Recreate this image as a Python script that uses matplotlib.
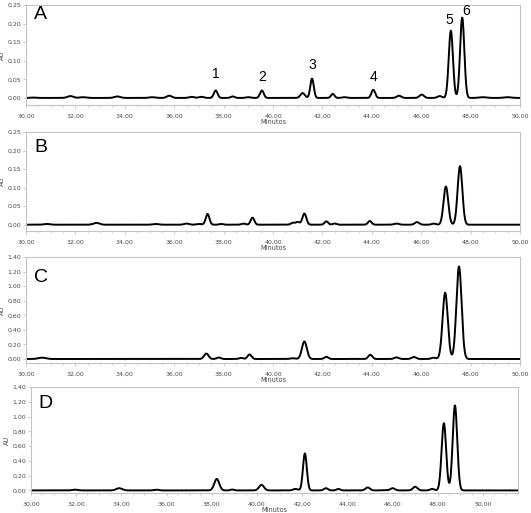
import numpy as np
import matplotlib
matplotlib.use("Agg")
import matplotlib.pyplot as plt
from matplotlib.ticker import MultipleLocator, FuncFormatter

# ---- peak tables (retention time, height AU, width sigma) ----
A_rt = [30.3, 31.8, 32.3, 33.7, 35.1, 35.8, 36.7, 37.1, 37.68, 38.37, 39.0, 39.55,
        41.2, 41.58, 42.42, 42.9, 44.06, 45.1, 46.02, 46.75, 47.2, 47.66, 48.5, 49.5]
A_h = [0.001, 0.005, 0.002, 0.004, 0.002, 0.006, 0.003, 0.003, 0.020, 0.004, 0.002, 0.020,
       0.013, 0.052, 0.011, 0.002, 0.022, 0.006, 0.009, 0.005, 0.181, 0.216, 0.002, 0.002]
A_w = [0.12, 0.12, 0.12, 0.12, 0.12, 0.1, 0.1, 0.1, 0.075, 0.08, 0.1, 0.075,
       0.09, 0.07, 0.07, 0.1, 0.075, 0.09, 0.09, 0.09, 0.085, 0.085, 0.15, 0.15]

B_rt = [30.85, 32.85, 35.25, 36.5, 37.0, 37.35, 37.9, 38.8, 39.17, 40.8, 41.0, 41.27,
        42.16, 42.5, 43.92, 45.0, 45.83, 46.5, 47.0, 47.57]
B_h = [0.002, 0.005, 0.002, 0.003, 0.002, 0.029, 0.002, 0.003, 0.019, 0.005, 0.007, 0.030,
       0.009, 0.003, 0.010, 0.003, 0.007, 0.003, 0.103, 0.158]
B_w = [0.12, 0.12, 0.12, 0.1, 0.1, 0.075, 0.08, 0.08, 0.075, 0.08, 0.08, 0.08,
       0.075, 0.08, 0.075, 0.1, 0.09, 0.08, 0.095, 0.095]

C_rt = [30.65, 37.3, 37.8, 38.7, 39.05, 40.8, 41.27, 42.16, 43.94, 45.0, 45.7, 46.5, 46.97, 47.53]
C_h = [0.018, 0.075, 0.02, 0.015, 0.062, 0.01, 0.24, 0.03, 0.058, 0.022, 0.028, 0.018, 0.91, 1.27]
C_w = [0.15, 0.09, 0.08, 0.08, 0.08, 0.1, 0.1, 0.08, 0.08, 0.09, 0.09, 0.09, 0.105, 0.105]

D_rt = [31.95, 33.9, 35.55, 38.22, 38.9, 40.2, 41.7, 42.12, 43.05, 43.6, 44.9, 45.6,
        46.0, 47.0, 47.75, 48.27, 48.76]
D_h = [0.01, 0.03, 0.01, 0.155, 0.012, 0.075, 0.02, 0.50, 0.03, 0.02, 0.04, 0.005,
       0.03, 0.05, 0.02, 0.91, 1.15]
D_w = [0.12, 0.13, 0.1, 0.11, 0.08, 0.11, 0.1, 0.085, 0.09, 0.08, 0.1, 0.1,
       0.1, 0.1, 0.09, 0.1, 0.1]

panel_letters = ["A", "B", "C", "D"]
peak_labels = ["1", "2", "3", "4", "5", "6"]
peak_label_x = [37.68, 39.55, 41.58, 44.06, 47.12, 47.82]
peak_label_y = [0.065, 0.057, 0.089, 0.057, 0.210, 0.235]

xlims = [(30, 50), (30, 50), (30, 50), (30, 51.55)]
ylims = [(-0.019, 0.25), (-0.017, 0.25), (-0.055, 1.40), (-0.035, 1.40)]
ysteps = [0.05, 0.05, 0.20, 0.20]
y_label = "AU"
x_label = "Minutos"

# layout in pixels of a 531x513 image
W, H = 531, 513
rects_px = [(26, 5, 520, 105), (26, 132, 520, 231), (26, 257, 520, 363), (31, 387, 518, 493)]
letter_px = [(34, 15), (34, 148), (34, 277), (38, 404)]

tables = [(A_rt, A_h, A_w), (B_rt, B_h, B_w), (C_rt, C_h, C_w), (D_rt, D_h, D_w)]

fig = plt.figure(figsize=(W / 100, H / 100), dpi=100)
fmt = FuncFormatter(lambda v, p: f"{v:.2f}".replace(".", ","))
tick_col = "#4a4a4a"
spine_col = "#c4c4c4"

for i, ((l, t, r, b), (rt, hh, ww)) in enumerate(zip(rects_px, tables)):
    ax = fig.add_axes([l / W, 1 - b / H, (r - l) / W, (b - t) / H])
    x0, x1 = xlims[i]
    t_grid = np.linspace(x0, x1, 4000)
    sig = np.zeros_like(t_grid)
    for c, h, s in zip(rt, hh, ww):
        sig += h * np.exp(-0.5 * ((t_grid - c) / s) ** 2)
    ax.plot(t_grid, sig, color="black", lw=1.4, solid_joinstyle="round")
    ax.set_xlim(x0, x1)
    ax.set_ylim(*ylims[i])
    ax.xaxis.set_major_locator(MultipleLocator(2))
    ax.xaxis.set_minor_locator(MultipleLocator(0.5))
    ax.yaxis.set_major_locator(MultipleLocator(ysteps[i]))
    ax.xaxis.set_major_formatter(fmt)
    ax.yaxis.set_major_formatter(fmt)
    for s in ax.spines.values():
        s.set_color(spine_col)
        s.set_linewidth(0.8)
    ax.tick_params(axis="both", which="major", labelsize=4.5, colors=spine_col,
                   labelcolor=tick_col, length=2.0, width=0.6)
    ax.tick_params(axis="x", which="major", pad=4)
    ax.tick_params(axis="y", which="major", pad=1.5)
    ax.tick_params(axis="x", which="minor", length=1.2, width=0.5, colors=spine_col)
    ax.set_ylabel(y_label, fontsize=4.7, color=tick_col, labelpad=2)
    ax.set_xlabel(x_label, fontsize=4.8, color=tick_col, labelpad=0.5)
    lx, ly = letter_px[i]
    fig.text(lx / W, 1 - ly / H, panel_letters[i], fontsize=14,
             family="Liberation Sans", va="center", ha="left", color="black")
    if i == 0:
        for lab, px, py in zip(peak_labels, peak_label_x, peak_label_y):
            ax.text(px, py, lab, fontsize=10, family="Liberation Sans",
                    ha="center", va="center", color="black")

fig.savefig("out.png", dpi=100)
